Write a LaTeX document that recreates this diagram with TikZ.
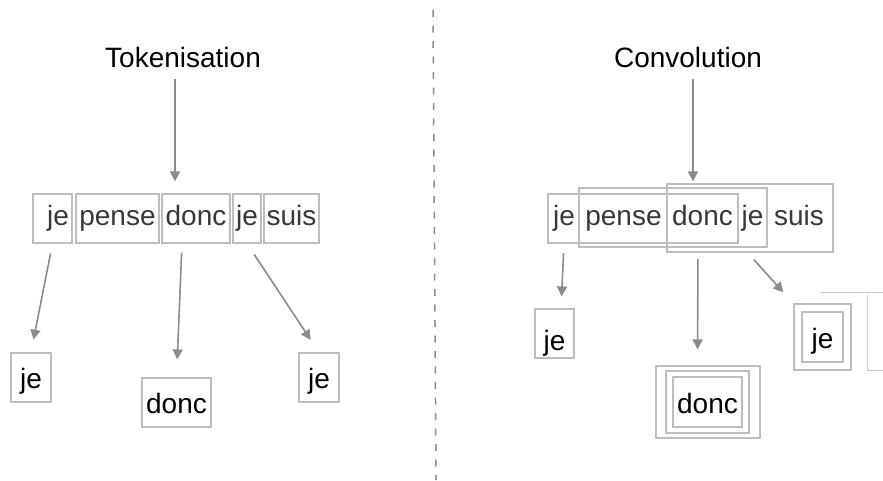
\documentclass[tikz,border=0pt]{standalone}
\usepackage{fontspec}
\setmainfont{Liberation Sans}
\usepackage{tikz}
\usetikzlibrary{calc, arrows.meta}
\definecolor{boxgray}{HTML}{BDBDBD}
\definecolor{arrgray}{HTML}{8C8C8C}
\definecolor{txtgray}{HTML}{383838}

\begin{document}
\begin{tikzpicture}[x=1pt, y=-1pt,
    every node/.style={font=\fontsize{28}{30}\selectfont, inner sep=0pt},
    tok/.style={draw=boxgray, line width=1.2pt, minimum height=49pt, text height=20pt, text depth=7pt, text=txtgray},
    word/.style={minimum height=49pt, text height=20pt, text depth=7pt, text=txtgray},
    win/.style={draw=boxgray, line width=1.2pt},
    outbox/.style={draw=boxgray, line width=1.2pt, minimum height=49pt, text height=26pt, text depth=4pt},
    arr/.style={draw=arrgray, line width=1.6pt, -{Triangle[length=10pt,width=10pt]}, arrgray}
  ]
        \pgfmathsetmacro{\rowy}{218.5}
        \pgfmathsetmacro{\outy}{377.5}
        \useasboundingbox (0,0) rectangle (883,480);
        \draw[arrgray, line width=1.5pt, dash pattern=on 7pt off 8.5pt] (433,10) -- (436,480);
        % titles
        \node[anchor=base] (tk) at (183,67) {Tokenisation};
        \node[anchor=base] (cv) at (688,67) {Convolution};
        % tokenisation
        \node[tok, minimum width=39pt] (je1) at (52.5,\rowy) {\hspace*{11pt}je};
        \node[tok, minimum width=83pt] (pn) at (117.5,\rowy) {pense};
        \node[tok, minimum width=68pt] (dn) at (196,\rowy) {donc};
        \node[tok, minimum width=28pt] (je2) at (247,\rowy) {je};
        \node[tok, minimum width=55pt] (su) at (291.5,\rowy) {suis};
        \node[outbox, minimum width=40pt] (oj1) at (31,\outy) {je};
        \node[outbox, minimum width=69pt] (od) at (176.5,402.5) {donc};
        \node[outbox, minimum width=40pt] (oj2) at (319,\outy) {je};
        \draw[arr, shorten >=24pt] ([xshift=-8pt,yshift=-12pt]tk.base) -- ([xshift=-8pt,yshift=-12pt]tk.base |- pn.north);
        \draw[arr, shorten <=10pt, shorten >=13pt] (je1.south) -- (oj1.north);
        \draw[arr, shorten <=9pt, shorten >=18pt] ([xshift=-14pt]dn.south) -- (od.north);
        \draw[arr, shorten <=13pt, shorten >=15pt] (je2.south) -- (oj2.north);
        % convolution
        \node[word] (rj1) at (564,\rowy) {je};
        \node[word] (rpn) at (623.5,\rowy) {pense};
        \node[word] (rdn) at (702.5,\rowy) {donc};
        \node[word] (rj2) at (752.5,\rowy) {je};
        \node[word] (rsu) at (799,\rowy) {suis};
        \node[win, minimum width=190pt, minimum height=49pt] (w1) at (643,218.5) {};
        \node[win, minimum width=188pt, minimum height=59pt] (w2) at (673,217.5) {};
        \node[win, minimum width=166pt, minimum height=68pt] (w3) at (750,218) {};
        \node[outbox, minimum width=39pt, text height=36pt, text depth=2pt] (roj1) at (554.5,333.5) {je};
        \node[win, minimum width=104pt, minimum height=72pt] (rdo3) at (708,402) {};
        \node[win, minimum width=83pt, minimum height=62pt] (rdo2) at (707.5,402) {};
        \node[outbox, minimum width=69pt, minimum height=50pt] (rdo1) at (707.5,402) {donc};
        \node[win, minimum width=57pt, minimum height=66pt] (rje2) at (822.5,337) {};
        \node[outbox, minimum width=41pt, minimum height=50pt] (rje1) at (822.5,337) {je};
        \draw[boxgray!80, line width=1pt] (820,292) -- (883,292);
        \draw[boxgray!80, line width=1pt] (867,295) -- (867,370) -- (883,370);
        \draw[arr, shorten >=14pt] ([xshift=5pt,yshift=-12pt]cv.base) -- ([xshift=5pt,yshift=-12pt]cv.base |- w3.north);
        \draw[arr, shorten <=10pt, shorten >=12pt] (rj1.south) -- ([xshift=6.5pt]roj1.north);
        \draw[arr, shorten <=16pt, shorten >=16pt] ([xshift=-4.5pt]rdn.south) -- ([xshift=-10pt]rdo2.north |- rdo3.north);
        \draw[arr, shorten <=22pt, shorten >=15pt] ([xshift=-13.5pt]rj2.south) -- (rje2.north west);
\end{tikzpicture}
\end{document}
